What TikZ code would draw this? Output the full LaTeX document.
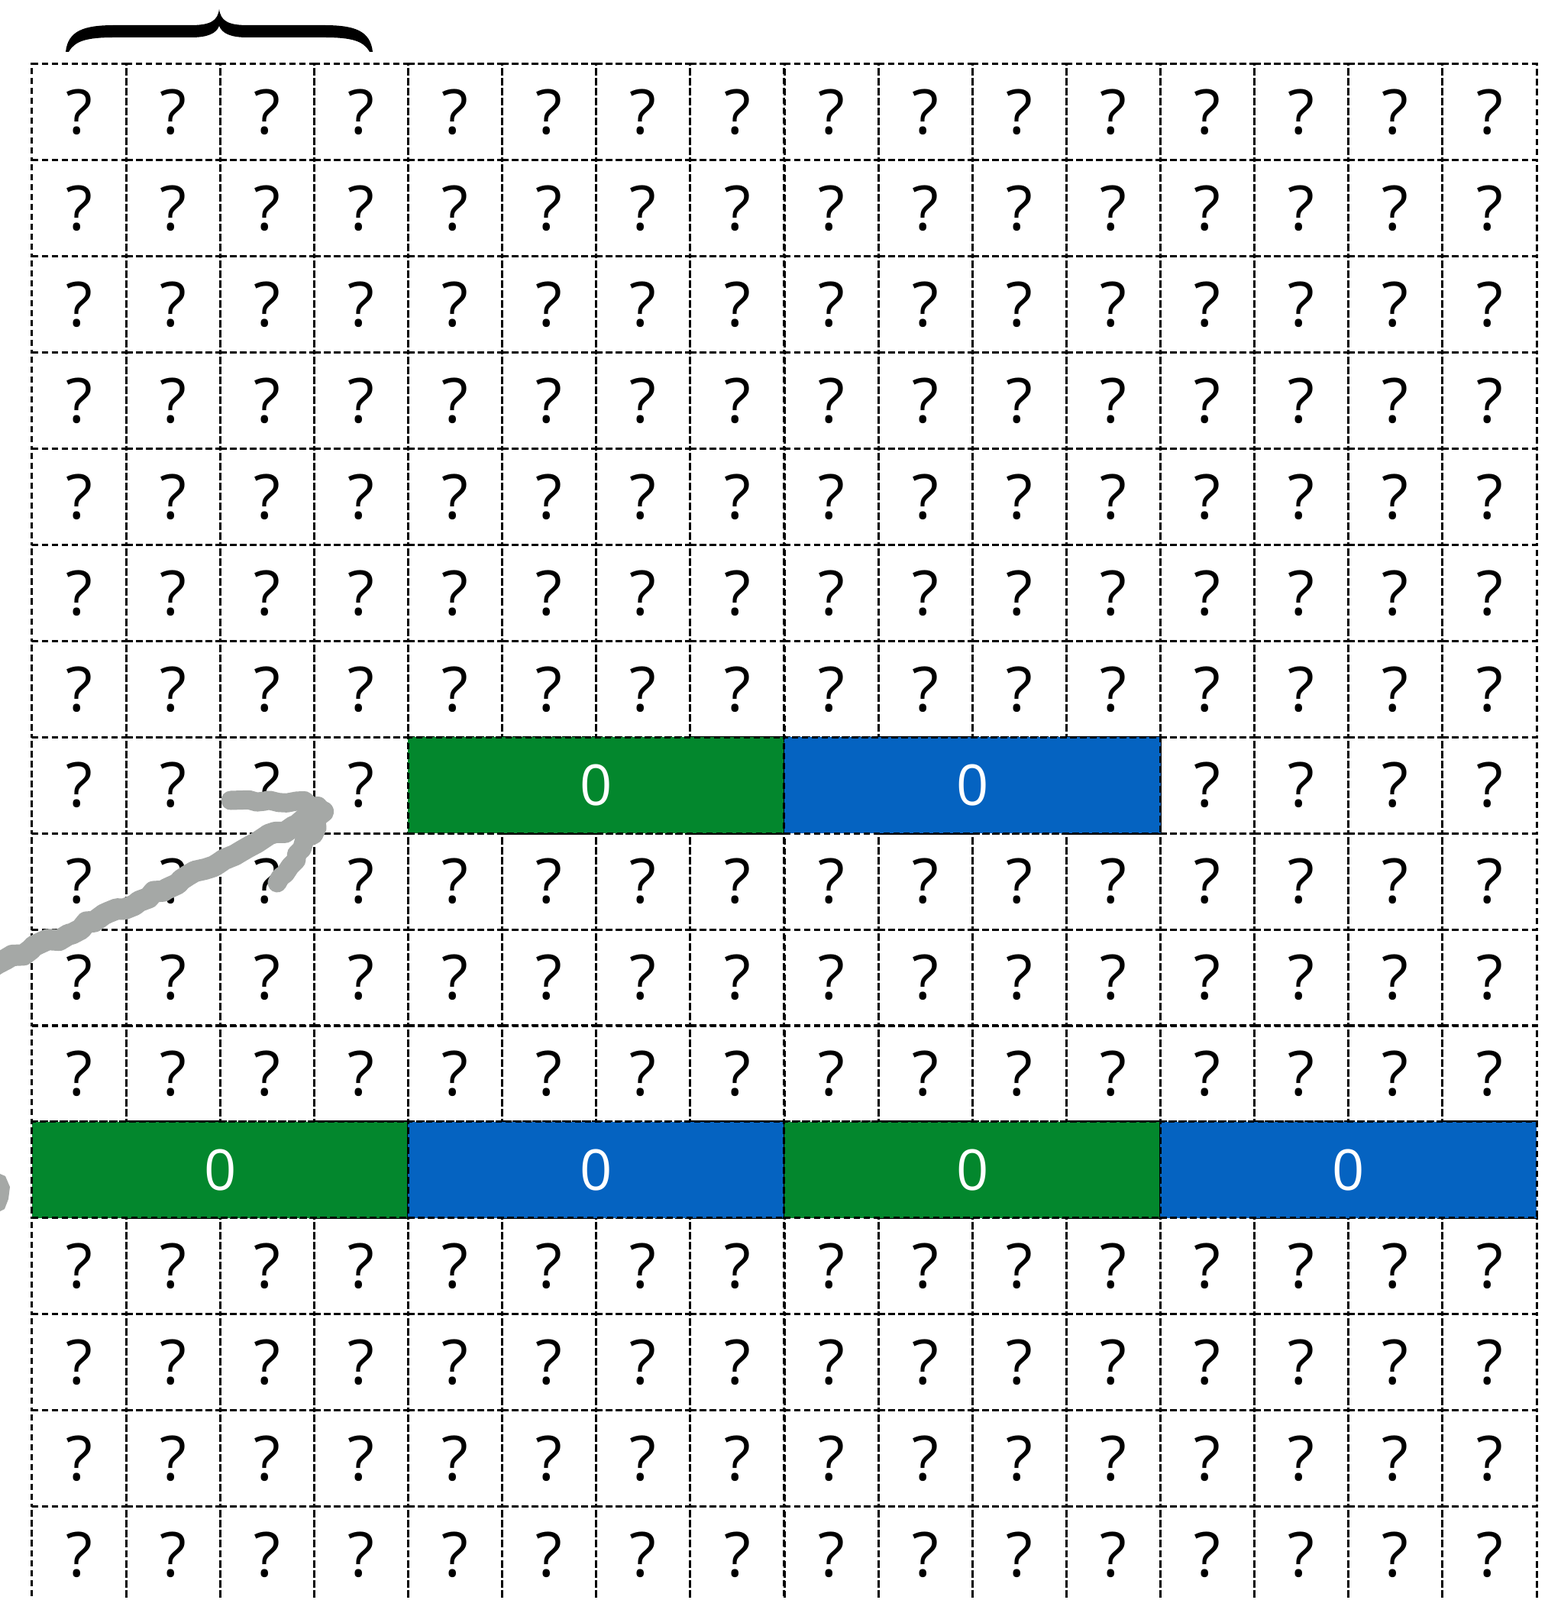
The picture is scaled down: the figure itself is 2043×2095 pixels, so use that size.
\documentclass[tikz,border=0pt]{standalone}
\usepackage{fontspec}
\setmainfont{Open Sans}
\usetikzlibrary{decorations.pathmorphing}
\definecolor{blkgreen}{HTML}{03872D}
\definecolor{blkblue}{HTML}{0563C1}
\definecolor{arrowgray}{HTML}{A5A8A6}
\tikzset{
  cellbox/.style={draw=black, dash pattern=on 2.4pt off 1.3pt, line width=0.85pt,
    minimum width=1.23125cm, minimum height=1.259cm, inner sep=0pt, outer sep=0pt,
    font=\fontsize{23}{23}\selectfont},
  blockbox/.style={cellbox, minimum width=4.925cm, text=white,
    font=\fontsize{21}{21}\selectfont},
  roughstroke/.style={draw=arrowgray, line cap=round, line join=round,
    decorate, decoration={random steps, segment length=3, amplitude=1}}
}
\begin{document}
\begin{tikzpicture}[x=0.01cm,y=-0.01cm]
\clip (0,0) rectangle (2043,2095);
\fill[white] (0,0) rectangle (2043,2095);
% grid of unknown cells
\foreach \r in {0,...,15} {
  \foreach \c in {0,...,15} {
    \pgfmathtruncatemacro\cov{or(\r==11, and(\r==7, and(\c>3, \c<12)))}
    \ifnum\cov=0
      \node[cellbox] (c-\r-\c) at ({42+123.125*(\c+0.5)},{84+125.9*(\r+0.5)}) {?};
    \fi
  }
}
% coloured blocks
\node[blockbox, fill=blkgreen] (b-7-1) at ({42+123.125*6},{84+125.9*7.5}) {0};
\node[blockbox, fill=blkblue]  (b-7-2) at ({42+123.125*10},{84+125.9*7.5}) {0};
\node[blockbox, fill=blkgreen] (b-11-0) at ({42+123.125*2},{84+125.9*11.5}) {0};
\node[blockbox, fill=blkblue]  (b-11-1) at ({42+123.125*6},{84+125.9*11.5}) {0};
\node[blockbox, fill=blkgreen] (b-11-2) at ({42+123.125*10},{84+125.9*11.5}) {0};
\node[blockbox, fill=blkblue]  (b-11-3) at ({42+123.125*14},{84+125.9*11.5}) {0};
% brace
\fill[black] (86,68) .. controls (89,40) and (110,33) .. (150,33) -- (250,33)
  .. controls (276,33) and (285,27) .. (287,12)
  .. controls (289,27) and (298,33) .. (324,33) -- (424,33)
  .. controls (464,33) and (485,40) .. (488,68) -- (484,68)
  .. controls (476,54) and (462,49) .. (424,49) -- (324,49)
  .. controls (302,49) and (291,44) .. (287,34)
  .. controls (283,44) and (272,49) .. (250,49) -- (150,49)
  .. controls (112,49) and (98,54) .. (90,68) -- cycle;
% hand-drawn arrow
\coordinate (arrowtail) at (-10,1266);
\coordinate (arrowtip) at (423,1063);
\draw[roughstroke, line width=0.28cm] (arrowtail) .. controls (200,1175) and (330,1105) .. (arrowtip);
\draw[roughstroke, line width=0.25cm] (302,1048) .. controls (350,1046) and (395,1048) .. (416,1056)
  -- (arrowtip) .. controls (405,1100) and (380,1130) .. (363,1156);
\fill[arrowgray] (0,1537) -- (7,1540) -- (13,1554) -- (11,1570) -- (6,1583) -- (0,1586) -- cycle;
\end{tikzpicture}
\end{document}
